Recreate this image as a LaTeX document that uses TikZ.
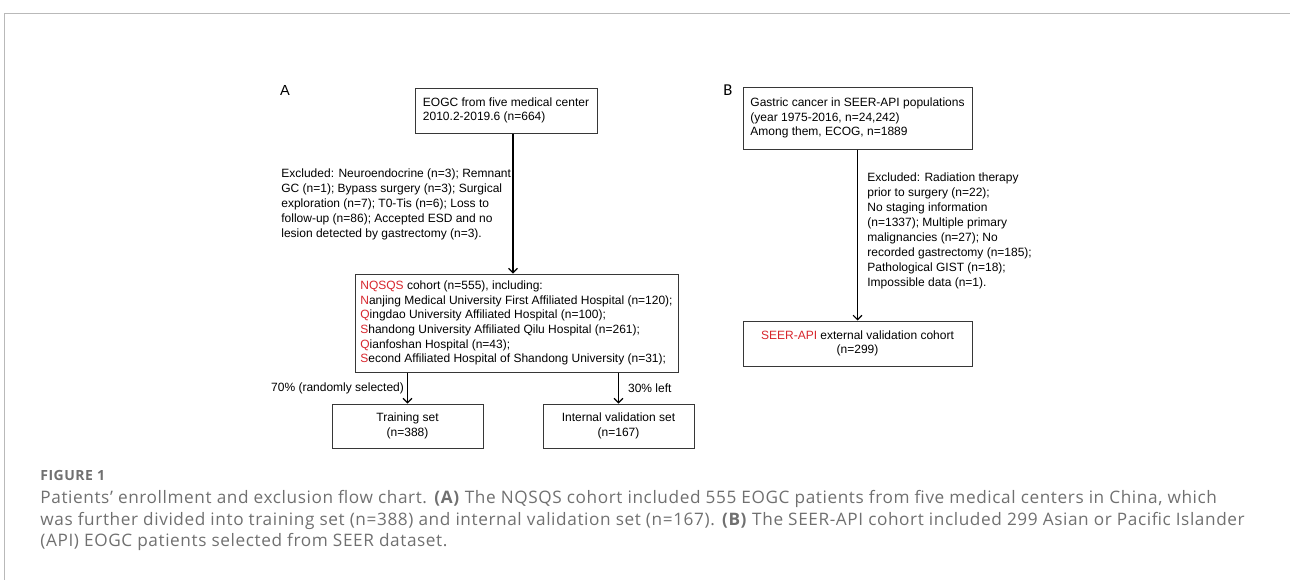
\documentclass[tikz,border=0pt]{standalone}
\usepackage{fontspec}
\setmainfont{Liberation Sans}
\newfontfamily\capfont[LetterSpace=3.5]{Open Sans}
\newfontfamily\panelfont{Carlito}
\usetikzlibrary{arrows.meta}

\definecolor{nqred}{RGB}{215,38,45}
\definecolor{capgray}{RGB}{112,112,112}
\definecolor{rulegray}{RGB}{185,185,185}
\definecolor{edgegray}{RGB}{55,55,55}

\newcommand{\hl}[1]{\textcolor{nqred}{#1}}

\tikzset{
	chart/.style={font=\fontsize{6}{7.3}\selectfont},
	box/.style={chart, draw=edgegray, line width=0.5pt, inner sep=0pt},
	lbox/.style={box, align=left},
	cbox/.style={box, align=center},
	note/.style={align=left, inner sep=0pt, font=\fontsize{6}{7.5}\selectfont},
	flow/.style={line width=0.6pt, -{Straight Barb[length=2.2pt,width=4.4pt]}},
}

\begin{document}
\begin{tikzpicture}[x=0.5pt,y=-0.5pt]
	\useasboundingbox (0,0) rectangle (1290,580);
	\draw[rulegray, line width=0.5pt] (1290,13) -- (4,13) -- (4,580);

	% panel A
	\node[font=\fontsize{7.3}{8}\selectfont] (labA) at (285,90) {A};
	\node[lbox, minimum width=91pt, minimum height=22.5pt] (eogc) at (506,110.5)
		{EOGC from five medical center\\2010.2-2019.6 (n=664)};
	\node[note, anchor=west] (exclA) at (281,204)
		{Excluded: Neuroendocrine (n=3); Remnant\\
		GC (n=1); Bypass surgery (n=3); Surgical\\
		exploration (n=7); T0-Tis (n=6); Loss to\\
		follow-up (n=86); Accepted ESD and no\\
		lesion detected by gastrectomy (n=3).};
	\node[lbox, minimum width=161.5pt, minimum height=49pt] (nqsqs) at (516.5,323)
		{\hl{NQSQS} cohort (n=555), including:\\
		\hl{N}anjing Medical University First Affiliated Hospital (n=120);\\
		\hl{Q}ingdao University Affiliated Hospital (n=100);\\
		\hl{S}handong University Affiliated Qilu Hospital (n=261);\\
		\hl{Q}ianfoshan Hospital (n=43);\\
		\hl{S}econd Affiliated Hospital of Shandong University (n=31);};
	\node[cbox, minimum width=75.5pt, minimum height=22pt] (train) at (407.5,426)
		{Training set\\(n=388)};
	\node[cbox, minimum width=75.5pt, minimum height=22pt] (intval) at (618.5,426)
		{Internal validation set\\(n=167)};

	\coordinate (spineA) at (513,0);
	\draw[flow] (eogc.south -| spineA) -- (nqsqs.north -| spineA);
	\draw[flow] (nqsqs.south -| train) -- (train.north)
		node[note, pos=0.5, left=1.5pt] (ratioL) {70\% (randomly selected)};
	\draw[flow] (nqsqs.south -| intval) -- (intval.north)
		node[note, pos=0.5, right=4.5pt] (ratioR) {30\% left};

	% panel B
	\node[font=\panelfont\fontsize{8.3}{9}\selectfont] (labB) at (728,90) {B};
	\node[lbox, minimum width=114.5pt, minimum height=31pt] (seer) at (857.5,118)
		{Gastric cancer in SEER-API populations\\
		(year 1975-2016, n=24,242)\\
		Among them, ECOG, n=1889};
	\node[note, anchor=west] (exclB) at (867,230.5)
		{Excluded: Radiation therapy\\
		prior to surgery (n=22);\\
		No staging information\\
		(n=1337); Multiple primary\\
		malignancies (n=27); No\\
		recorded gastrectomy (n=185);\\
		Pathological GIST (n=18);\\
		Impossible data (n=1).};
	\node[cbox, minimum width=114.5pt, minimum height=22.5pt] (extval) at (857.5,343.5)
		{\hl{SEER-API} external validation cohort\\(n=299)};
	\draw[flow] (seer) -- (extval);

	% caption
	\node[anchor=west, inner sep=0pt, text=capgray, font=\capfont\bfseries\fontsize{7}{8}\selectfont]
		(figno) at (40,475) {FIGURE 1};
	\node[anchor=north west, inner sep=0pt, align=left, text=capgray,
		font=\capfont\fontsize{8.6}{10.75}\selectfont] (caption) at (40,490)
		{Patients’ enrollment and exclusion flow chart. \textbf{(A)} The NQSQS cohort included 555 EOGC patients from five medical centers in China, which\\
		was further divided into training set (n=388) and internal validation set (n=167). \textbf{(B)} The SEER-API cohort included 299 Asian or Pacific Islander\\
		(API) EOGC patients selected from SEER dataset.};
\end{tikzpicture}
\end{document}
